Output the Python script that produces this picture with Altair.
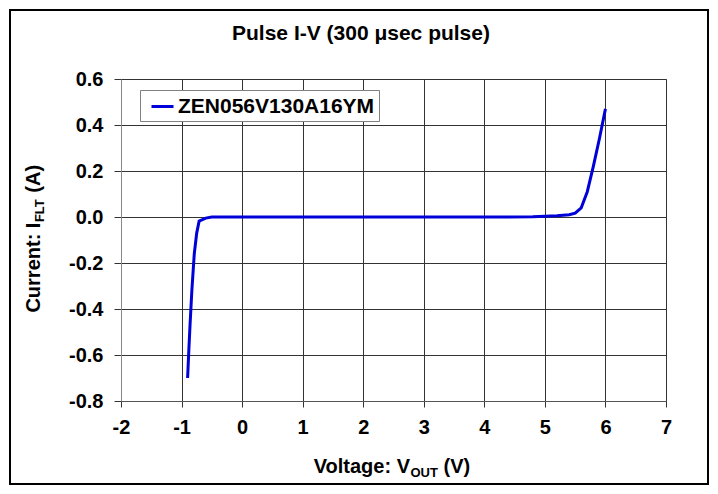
import altair as alt
import pandas as pd

# ---- data ----
series_name = "ZEN056V130A16YM"
voltage = [-0.90, -0.88, -0.86, -0.83, -0.79, -0.75, -0.71, -0.60, -0.50,
           0.0, 1.0, 2.0, 3.0, 4.0, 4.8, 5.0, 5.2, 5.4, 5.5, 5.6, 5.7, 5.8, 5.9, 6.0]
current = [-0.70, -0.58, -0.47, -0.32, -0.16, -0.07, -0.018, -0.005, 0.0,
           0.0, 0.0, 0.0, 0.0, 0.0, 0.001, 0.003, 0.005, 0.010, 0.017, 0.040, 0.11, 0.22, 0.34, 0.47]
x_ticks = [-2, -1, 0, 1, 2, 3, 4, 5, 6, 7]
y_ticks = [-0.8, -0.6, -0.4, -0.2, 0.0, 0.2, 0.4, 0.6]

title_text = "Pulse I-V (300 \u03bcsec pulse)"
x_title = ["Voltage: V", "OUT", "(V)"]
y_title = ["Current: I", "FLT", "(A)"]

df = pd.DataFrame({"V": voltage, "I": current, "series": series_name})
one = pd.DataFrame({"k": [0]})

FONT = "Liberation Sans"
W, H = 545, 322
LINE_COLOR = "#0000D8"

line = alt.Chart(df).mark_line(strokeWidth=3, clip=True).encode(
    x=alt.X("V:Q",
            scale=alt.Scale(domain=[-2, 7], nice=False, zero=False),
            axis=alt.Axis(values=x_ticks, title=None, grid=True,
                          gridColor="#333333", gridWidth=1,
                          domainColor="#555555", tickColor="#333333", tickSize=6,
                          labelExpr="'' + datum.value", labelFlush=False, labelOverlap=False,
                          labelFont=FONT, labelFontSize=20, labelFontWeight="bold",
                          labelColor="black", labelPadding=10)),
    y=alt.Y("I:Q",
            scale=alt.Scale(domain=[-0.8, 0.6], nice=False, zero=False),
            axis=alt.Axis(values=y_ticks, title=None, grid=True,
                          gridColor="#333333", gridWidth=1,
                          domainColor="#888888", tickColor="#333333", tickSize=7,
                          labelExpr="replace(format(datum.value, '.1f'), '\u2212', '-')",
                          labelFlush=False, labelOverlap=False,
                          labelFont=FONT, labelFontSize=20, labelFontWeight="bold",
                          labelColor="black", labelPadding=11)),
    color=alt.Color("series:N",
                    scale=alt.Scale(domain=[series_name], range=[LINE_COLOR]),
                    legend=alt.Legend(orient="none", legendX=19, legendY=11, title=None,
                                      fillColor="white", strokeColor="#808080", padding=4,
                                      labelFont=FONT, labelFontSize=21, labelFontWeight="bold",
                                      labelColor="black", labelLimit=400,
                                      symbolType="stroke", symbolSize=484,
                                      symbolStrokeWidth=3, symbolOffset=6, labelOffset=3)),
)


def txt(s, x, y, size, align="left", angle=0):
    return alt.Chart(one).mark_text(
        text=s, font=FONT, fontSize=size, fontWeight="bold", color="black",
        align=align, baseline="alphabetic", angle=angle
    ).encode(x=alt.value(x), y=alt.value(y))


border = alt.Chart(one).mark_rect(filled=False, stroke="black", strokeWidth=2).encode(
    x=alt.value(-111), x2=alt.value(587), y=alt.value(-69), y2=alt.value(405)
)

title = txt(title_text, 240, -39, 21, align="center")

xt1 = txt(x_title[0], 289, 394, 20, align="right")
xt2 = txt(x_title[1], 289.5, 398, 13)
xt3 = txt(x_title[2], 322.5, 394, 20)

yt1 = txt(y_title[0], -81, 233.6, 20, angle=270)
yt2 = txt(y_title[1], -77, 143.1, 13, angle=270)
yt3 = txt(y_title[2], -81, 113.7, 20, angle=270)

chart = alt.layer(border, line, title, xt1, xt2, xt3, yt1, yt2, yt3).properties(
    width=W, height=H,
    autosize=alt.AutoSizeParams(type="none"),
    padding={"left": 113, "top": 71, "right": 44, "bottom": 85},
    background="white",
).configure_view(stroke="#808080", strokeWidth=1)

chart.save("out.html", embed_options={"renderer": "svg", "actions": False})
